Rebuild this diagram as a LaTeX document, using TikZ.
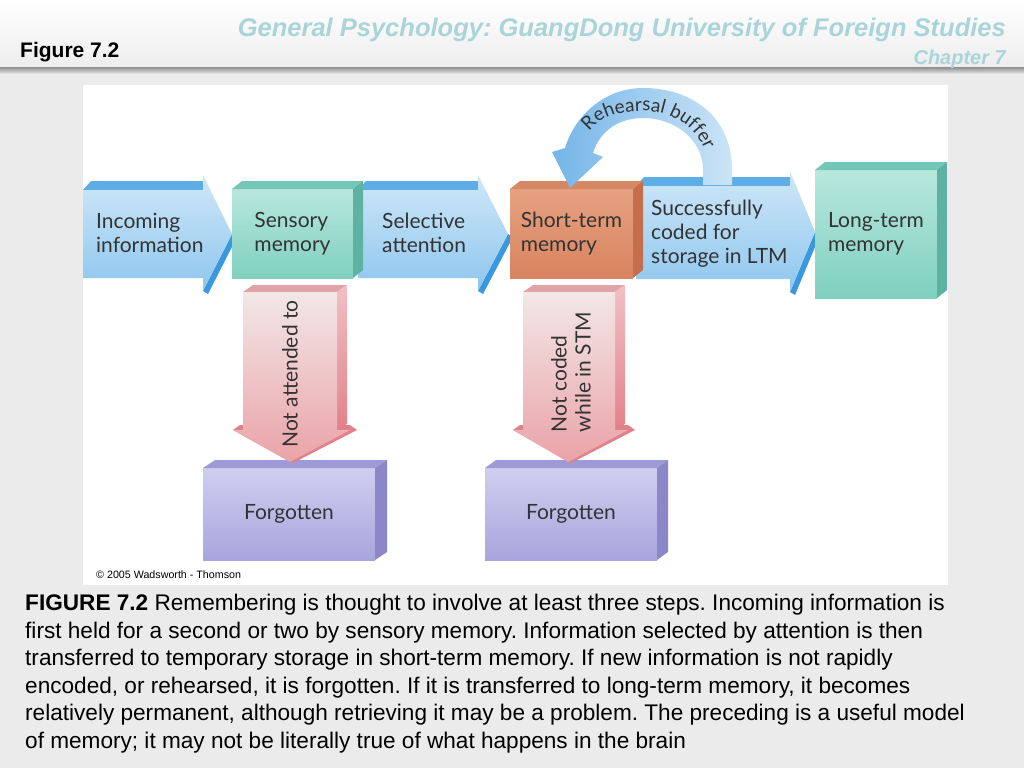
\documentclass[tikz,border=0pt]{standalone}
\usepackage{fontspec}
\setmainfont{Liberation Sans}
\newfontfamily\figfont{Lato}
\usetikzlibrary{decorations.text}
\frenchspacing
\definecolor{slidegray}{HTML}{EBEBEB}
\definecolor{headteal}{HTML}{A9D5DA}
\definecolor{figgray}{HTML}{333333}
\definecolor{arrowtop}{HTML}{CFE7F8}
\definecolor{arrowbot}{HTML}{8EC6EE}
\definecolor{arrowface}{HTML}{5DADE6}
\definecolor{arrowedge}{HTML}{3A98DE}
\definecolor{rehdark}{HTML}{74B5E8}
\definecolor{rehlight}{HTML}{CBE4F6}
\definecolor{tealtop}{HTML}{B8E7DD}
\definecolor{tealbot}{HTML}{7FD0C0}
\definecolor{tealface}{HTML}{73C7B6}
\definecolor{tealside}{HTML}{5DB2A1}
\definecolor{orangetop}{HTML}{E6A282}
\definecolor{orangebot}{HTML}{D9835F}
\definecolor{orangeface}{HTML}{D68764}
\definecolor{orangeside}{HTML}{C56E4C}
\definecolor{pinktop}{HTML}{F2E7E7}
\definecolor{pinkbot}{HTML}{EAA3A8}
\definecolor{pinkface}{HTML}{DFA3A8}
\definecolor{pinkside}{HTML}{E3818A}
\definecolor{lavtop}{HTML}{D0CEEF}
\definecolor{lavbot}{HTML}{A8A5DD}
\definecolor{lavface}{HTML}{9E9AD6}
\definecolor{lavside}{HTML}{8B87C9}
\tikzset{
  figtext/.style={font=\figfont\fontsize{21}{24}\selectfont, text=figgray, align=left, inner sep=0pt},
  membox/.style={figtext, outer sep=0pt},
  headtext/.style={text=headteal, inner sep=0pt, anchor=base east}
}
% top and side faces of a solid box node
\newcommand{\boxfaces}[5]{%
  \fill[#2] (#1.north west) -- ++(#4,#5) -- ([shift={(#4,#5)}]#1.north east) -- (#1.north east) -- cycle;
  \fill[#3] (#1.north east) -- ++(#4,#5) -- ([shift={(#4,#5)}]#1.south east) -- (#1.south east) -- cycle;}
% blue flow arrow: x0, x1, xtip, ytop, ybot, ymid
\newcommand{\flowarrow}[6]{%
  \fill[arrowedge] (#3,#6) -- (#3+5,#6-3) -- (#2+5,#5-16) -- (#2,#5-13) -- cycle;
  \fill[arrowface] (#1,#4) -- (#1+8,#4+9) -- (#2,#4+9) -- (#2,#4) -- cycle;
  \shade[top color=arrowtop, bottom color=arrowbot] (#1,#4) -- (#2,#4) -- (#2,#4+15) -- (#3,#6) -- (#2,#5-13) -- (#2,#5) -- (#1,#5) -- cycle;}
% pink drop arrow: x0, x1, xtip
\newcommand{\droparrow}[3]{%
  \fill[pinkface] (#1,-292) -- (#1+10,-285) -- (#2+10,-285) -- (#2,-292) -- cycle;
  \shade[top color=pinkside!50, bottom color=pinkside] (#2,-292) -- (#2+10,-285) -- (#2+10,-424) -- (#2,-430) -- cycle;
  \fill[pinkside] (#1-10,-430) -- (#1-3,-425) -- (#2+13,-425) -- (#2+20,-430) -- (#3+3,-463) -- cycle;
  \shade[top color=pinktop, bottom color=pinkbot] (#1,-292) -- (#2,-292) -- (#2,-430) -- (#2+13,-430) -- (#3,-462) -- (#1-10,-430) -- (#1,-430) -- cycle;}
\begin{document}
\begin{tikzpicture}[x=1pt,y=1pt]
\useasboundingbox (0,0) rectangle (1024,-768);
% slide
\fill[slidegray] (0,0) rectangle (1024,-768);
\shade[top color=white, bottom color=slidegray!90] (0,0) rectangle (1024,-67);
\shade[top color=black!45, bottom color=slidegray] (0,-67) rectangle (1024,-74);
\node[font=\bfseries\fontsize{21}{23}\selectfont, anchor=base west, inner sep=0pt] (fig) at (20,-58) {Figure 7.2};
\node[headtext, font=\bfseries\itshape\fontsize{25.5}{27}\selectfont] (course) at (1006,-37) {General Psychology: GuangDong University of Foreign Studies};
\node[headtext, font=\bfseries\itshape\fontsize{20}{22}\selectfont] (chapter) at (1006,-64) {Chapter 7};
\fill[white] (83,-85) rectangle (948,-585);
% flow along the top
\flowarrow{83}{203}{232}{-190}{-278}{-234}
\flowarrow{358}{478}{508}{-190}{-278}{-234}
\flowarrow{636}{790}{815}{-186}{-279}{-232}
\node[figtext, anchor=west] (incoming) at (96,-233) {Incoming\\information};
\node[figtext, anchor=west] (selective) at (382,-233) {Selective\\attention};
\node[figtext, anchor=west] (coded) at (651,-234) {Successfully\\coded for\\storage in LTM};
\node[membox, top color=tealtop, bottom color=tealbot, minimum width=121pt, minimum height=89pt] (sensory) at (292.5,-233.5) {Sensory\\memory};
\boxfaces{sensory}{tealface}{tealside}{10}{8}
\node[membox, top color=orangetop, bottom color=orangebot, minimum width=123pt, minimum height=89pt] (stm) at (571.5,-233.5) {Short-term\\memory};
\boxfaces{stm}{orangeface}{orangeside}{10}{8}
\node[membox, top color=tealtop, bottom color=tealbot, minimum width=122pt, minimum height=128pt] (ltm) at (876,-234) {Long-term\\memory};
\boxfaces{ltm}{tealface}{tealside}{10}{8}
% forgotten
\node[membox, top color=lavtop, bottom color=lavbot, minimum width=172pt, minimum height=92pt] (forgot1) at (289,-514) {Forgotten};
\boxfaces{forgot1}{lavface}{lavside}{12}{8}
\node[membox, top color=lavtop, bottom color=lavbot, minimum width=172pt, minimum height=92pt] (forgot2) at (571,-514) {Forgotten};
\boxfaces{forgot2}{lavface}{lavside}{11}{8}
\droparrow{243}{337}{290}
\droparrow{523}{615}{568}
\node[figtext, rotate=90] (notatt) at (290,-374) {Not attended to};
\node[figtext, rotate=90] (notcoded) at (571,-372) {Not coded\\while in STM};
% rehearsal loop
\shade[left color=rehdark, right color=rehlight] (732,-185) -- (732,-170) .. controls (732,-115) and (690,-88) .. (643,-88) .. controls (605,-88) and (575,-115) .. (565,-148) -- (552,-152) -- (570,-188) -- (603,-157) -- (593,-153) .. controls (600,-130) and (620,-118) .. (643,-118) .. controls (675,-118) and (703,-140) .. (703,-170) -- (703,-185) -- cycle;
\path[decorate, decoration={text along path, text align=center, text={|\figfont\fontsize{19}{22}\selectfont\color{figgray}|Rehearsal buffer}}] (579,-154) .. controls (587,-121) and (611,-111) .. (643,-111) .. controls (679,-111) and (708,-135) .. (710,-174);
\node[font=\fontsize{10.7}{12}\selectfont, anchor=base west, inner sep=0pt] (copyr) at (96,-578) {\textcopyright{} 2005 Wadsworth - Thomson};
% caption
\node[font=\fontsize{22.6}{27.6}\selectfont, align=left, anchor=north west, inner sep=0pt] (caption) at (25,-594) {\textbf{FIGURE 7.2} Remembering is thought to involve at least three steps. Incoming information is\\first held for a second or two by sensory memory. Information selected by attention is then\\transferred to temporary storage in short-term memory. If new information is not rapidly\\encoded, or rehearsed, it is forgotten. If it is transferred to long-term memory, it becomes\\relatively permanent, although retrieving it may be a problem. The preceding is a useful model\\of memory; it may not be literally true of what happens in the brain};
\end{tikzpicture}
\end{document}
